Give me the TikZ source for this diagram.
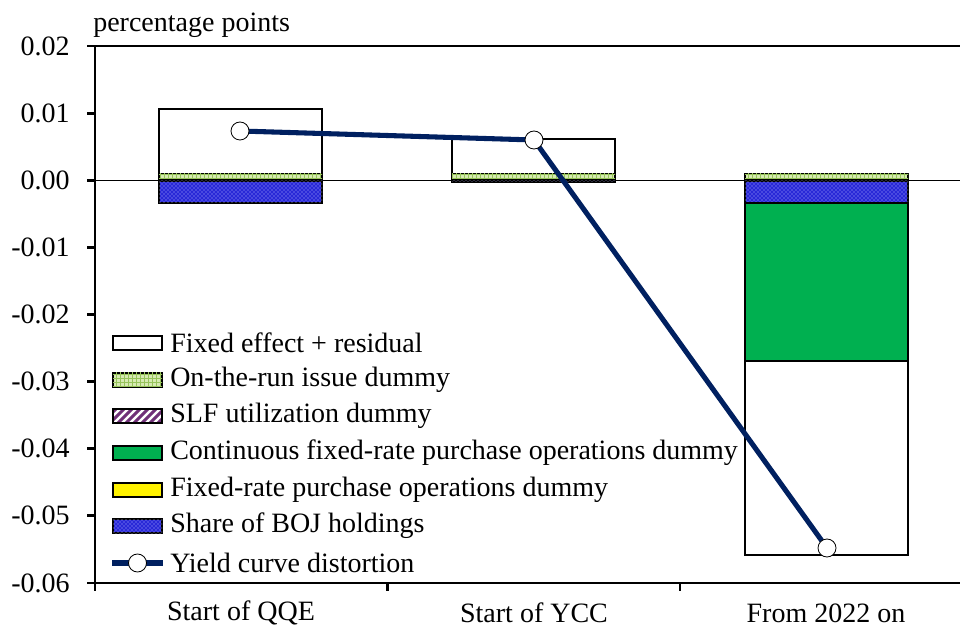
\documentclass[tikz,border=0pt]{standalone}
\usepackage{fontspec}
\setmainfont{Liberation Serif}
\usetikzlibrary{patterns}
\definecolor{navy}{RGB}{0,32,96}
\definecolor{contgreen}{RGB}{0,176,80}
\definecolor{otrfill}{RGB}{214,234,178}
\definecolor{otrline}{RGB}{150,195,90}
\definecolor{bojblue}{RGB}{40,40,215}
\definecolor{bojdot}{RGB}{185,185,255}
\definecolor{slfpurple}{RGB}{112,48,120}
\begin{document}
\begin{tikzpicture}[x=0.75pt,y=-0.75pt,
  txt/.style={font=\fontsize{21}{24}\selectfont, inner sep=0pt},
  barw/.style={draw=black, line width=2pt, fill=white},
  otr/.style={draw=black, line width=2pt, fill=otrfill, postaction={pattern=grid, pattern color=otrline}},
  boj/.style={draw=black, line width=2pt, fill=bojblue, postaction={pattern=crosshatch dots, pattern color=bojdot}},
  cont/.style={draw=black, line width=2pt, fill=contgreen},
  fixy/.style={draw=black, line width=2pt, fill=yellow},
  ycd/.style={draw=navy, line width=3.8pt},
  mk/.style={circle, draw=black, line width=0.6pt, fill=white, minimum size=13.5pt, inner sep=0pt},
  axis/.style={line width=2pt, black}]
\useasboundingbox (0,0) rectangle (960,630);
% zero line and top line
\draw[line width=0.8pt] (95,180.3) -- (960,180.3);
\draw[line width=1.6pt] (87,46) -- (960,46);
% bars: Start of QQE
\draw[barw] (159,109) rectangle (322,174);
\draw[otr] (159,174) rectangle (322,180);
\draw[boj] (159,180.3) rectangle (322,203);
% Start of YCC
\draw[barw] (452,139) rectangle (615,174);
\draw[otr] (452,174) rectangle (615,180);
\draw[boj] (452,180.3) rectangle (615,182);
% From 2022 on
\draw[otr] (745,174) rectangle (908,180);
\draw[boj] (745,180.3) rectangle (908,203);
\draw[cont] (745,203) rectangle (908,361);
\draw[barw] (745,361) rectangle (908,555);
% axes
\draw[axis] (95,46) -- (95,583);
\draw[axis] (87,583) -- (960,583);
\foreach \yy in {46,113.2,180.3,247.4,314.5,381.6,448.7,515.8,583} \draw[axis] (87,\yy) -- (95,\yy);
\foreach \xx in {95,387.5,680} \draw[axis] (\xx,583) -- (\xx,591);
% y labels
\node[txt, anchor=east] (y1) at (70,46) {0.02};
\node[txt, anchor=east] (y2) at (70,113.2) {0.01};
\node[txt, anchor=east] (y3) at (70,180.3) {0.00};
\node[txt, anchor=east] (y4) at (70,247.4) {-0.01};
\node[txt, anchor=east] (y5) at (70,314.5) {-0.02};
\node[txt, anchor=east] (y6) at (70,381.6) {-0.03};
\node[txt, anchor=east] (y7) at (70,448.7) {-0.04};
\node[txt, anchor=east] (y8) at (70,515.8) {-0.05};
\node[txt, anchor=east] (y9) at (70,583) {-0.06};
\node[txt, anchor=west] (unit) at (93,25) {percentage points};
% x labels
\node[txt] (c1) at (241,613) {Start of QQE};
\node[txt] (c2) at (534,613) {Start of YCC};
\node[txt] (c3) at (826,613) {From 2022 on};
% yield curve distortion
\coordinate (p1) at (240,131);
\coordinate (p2) at (534,140);
\coordinate (p3) at (827,548);
\draw[ycd] (p1) -- (p2) -- (p3);
\node[mk] (m1) at (p1) {};
\node[mk] (m2) at (p2) {};
\node[mk] (m3) at (p3) {};
% legend
\draw[barw] (113,336) rectangle (162,350);
\node[txt, anchor=west] (l1) at (170,343) {Fixed effect + residual};
\draw[otr] (113,373) rectangle (162,387);
\node[txt, anchor=west] (l2) at (170,380) {On-the-run issue dummy};
\begin{scope}
  \clip (113,409) rectangle (162,423);
  \foreach \s in {100,108,...,180} \draw[slfpurple, line width=2.2pt] (\s,425) -- (\s+18,407);
\end{scope}
\draw[line width=2pt] (113,409) rectangle (162,423);
\node[txt, anchor=west] (l3) at (170,416) {SLF utilization dummy};
\draw[cont] (113,446) rectangle (162,460);
\node[txt, anchor=west] (l4) at (170,453) {Continuous fixed-rate purchase operations dummy};
\draw[fixy] (113,483) rectangle (162,497);
\node[txt, anchor=west] (l5) at (170,490) {Fixed-rate purchase operations dummy};
\draw[boj] (113,519) rectangle (162,533);
\node[txt, anchor=west] (l6) at (170,526) {Share of BOJ holdings};
\coordinate (la) at (112,563);
\coordinate (lb) at (163,563);
\draw[ycd] (la) -- (lb);
\node[mk] (lm) at (137.5,563) {};
\node[txt, anchor=west] (l7) at (170,563) {Yield curve distortion};
\end{tikzpicture}
\end{document}
